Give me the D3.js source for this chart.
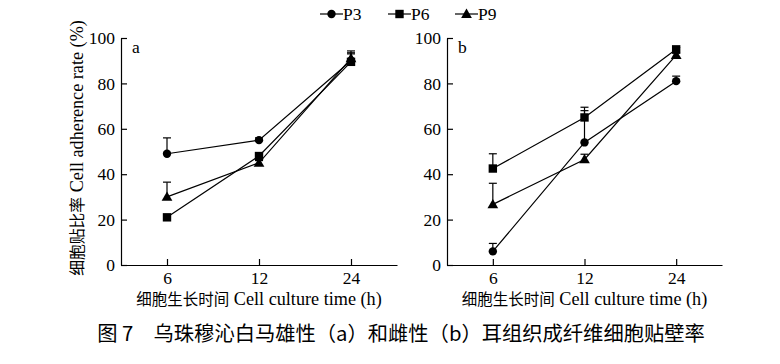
<!DOCTYPE html>
<html><head><meta charset="utf-8">
<script src="https://cdn.jsdelivr.net/npm/d3@7/dist/d3.min.js"></script>
<style>body{margin:0;background:#fff}svg{display:block}</style>
</head><body>
<svg id="c" width="780" height="364"></svg>
<script>
const times = ["6", "12", "24"];
const yTicks = [0, 20, 40, 60, 80, 100];
const seriesNames = ["P3", "P6", "P9"];
const markers = ["circle", "square", "triangle"];
// panel a (male)
const aP3 = [49, 55, 90];
const aP3Err = [7, 1, 3];
const aP6 = [21, 48, 89.5];
const aP6Err = [1, 1, 4.8];
const aP9 = [30, 45, 91];
const aP9Err = [6.5, 1, 2.5];
// panel b (female)
const bP3 = [6, 54, 81];
const bP3Err = [3.5, 14, 2.2];
const bP6 = [42.5, 65, 95];
const bP6Err = [6.5, 4.5, 0.8];
const bP9 = [26.7, 46.5, 92.5];
const bP9Err = [9.3, 2.3, 0.8];

const panels = [
  {label: "a", x0: 121, x1: 397, series: [[aP3, aP3Err], [aP6, aP6Err], [aP9, aP9Err]]},
  {label: "b", x0: 447, x1: 722, series: [[bP3, bP3Err], [bP6, bP6Err], [bP9, bP9Err]]}
];
const yTop = 38, yBot = 265;
const FONT = "'Liberation Serif', 'Noto Sans CJK SC', serif";
const CJK = "'Noto Sans CJK SC', sans-serif";
const svg = d3.select("#c");
const y = d3.scaleLinear().domain([0, 100]).range([yBot, yTop]);

function drawMarker(g, type, cx, cy) {
  if (type === "circle") g.append("circle").attr("cx", cx).attr("cy", cy).attr("r", 4.2).attr("fill", "#000");
  else if (type === "square") g.append("rect").attr("x", cx - 4.2).attr("y", cy - 4.2).attr("width", 8.4).attr("height", 8.4).attr("fill", "#000");
  else g.append("path").attr("d", d3.symbol(d3.symbolTriangle, 50)()).attr("transform", `translate(${cx},${cy + 0.8})`).attr("fill", "#000");
}
function mixedText(t, cjk, latin, cjkSize, latinSize) {
  t.append("tspan").text(cjk).attr("font-family", CJK).attr("font-size", cjkSize);
  t.append("tspan").text(" " + latin).attr("font-family", FONT).attr("font-size", latinSize);
}

panels.forEach(p => {
  const x = d3.scalePoint().domain(times).range([p.x0, p.x1]).padding(0.5);
  const g = svg.append("g");
  const yAxis = g.append("g").attr("transform", `translate(${p.x0},0)`)
    .call(d3.axisLeft(y).tickValues(yTicks).tickSize(-6).tickPadding(6).tickSizeOuter(0));
  const xAxis = g.append("g").attr("transform", `translate(0,${yBot})`)
    .call(d3.axisBottom(x).tickSize(-6).tickPadding(7).tickSizeOuter(0));
  [yAxis, xAxis].forEach(a => {
    a.select(".domain").attr("stroke", "#000").attr("stroke-width", 1.2);
    a.selectAll(".tick line").attr("stroke", "#000").attr("stroke-width", 1.2);
    a.selectAll("text").attr("font-family", FONT).attr("font-size", 17.5).attr("fill", "#000");
  });
  g.append("text").attr("x", p.x0 + 11).attr("y", 53).text(p.label)
    .attr("font-family", FONT).attr("font-size", 17.5).attr("fill", "#000");
  const t = g.append("text").attr("x", (p.x0 + p.x1) / 2).attr("y", 305).attr("text-anchor", "middle").attr("fill", "#000");
  mixedText(t, "细胞生长时间", "Cell culture time (h)", 15.5, 18.2);

  p.series.forEach(([vals, errs], si) => {
    const sg = g.append("g");
    const pts = times.map((t, i) => [x(t), y(vals[i])]);
    times.forEach((t, i) => {
      const cx = x(t), top = y(vals[i] + errs[i]);
      sg.append("line").attr("x1", cx).attr("x2", cx).attr("y1", y(vals[i])).attr("y2", top).attr("stroke", "#000").attr("stroke-width", 1.2);
      sg.append("line").attr("x1", cx - 4).attr("x2", cx + 4).attr("y1", top).attr("y2", top).attr("stroke", "#000").attr("stroke-width", 1.2);
    });
    sg.append("path").attr("d", d3.line()(pts)).attr("fill", "none").attr("stroke", "#000").attr("stroke-width", 1.2);
    pts.forEach(([cx, cy]) => drawMarker(sg, markers[si], cx, cy));
  });
});

// y axis title
const yt = svg.append("text").attr("transform", "translate(83,148) rotate(-90)").attr("text-anchor", "middle").attr("fill", "#000");
mixedText(yt, "细胞贴比率", "Cell adherence rate (%)", 15.8, 18.2);

// legend
const legX = [320, 388, 455];
seriesNames.forEach((n, i) => {
  const lg = svg.append("g");
  lg.append("line").attr("x1", legX[i]).attr("x2", legX[i] + 23).attr("y1", 14).attr("y2", 14).attr("stroke", "#000").attr("stroke-width", 1.2);
  drawMarker(lg, markers[i], legX[i] + 11.5, 14);
  lg.append("text").attr("x", legX[i] + 23).attr("y", 20).text(n)
    .attr("font-family", FONT).attr("font-size", 17.5).attr("fill", "#000");
});

// caption
svg.append("text").attr("x", 401).attr("y", 341).attr("text-anchor", "middle")
  .text("图 7　乌珠穆沁白马雄性（a）和雌性（b）耳组织成纤维细胞贴壁率")
  .attr("font-family", CJK).attr("font-size", 20.3).attr("fill", "#000");
</script>
</body></html>
